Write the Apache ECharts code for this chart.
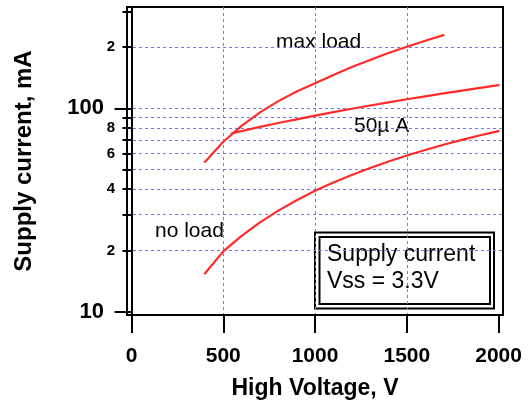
<!DOCTYPE html>
<html>
<head>
<meta charset="utf-8">
<script src="https://cdn.jsdelivr.net/npm/echarts@6/dist/echarts.min.js"></script>
<style>
  html, body { margin: 0; padding: 0; background: #fff; }
  #main { width: 531px; height: 409px; }
</style>
</head>
<body>
<div id="main"></div>
<script>
// values (x = high voltage V, y = supply current)
var maxLoadX = [400, 500, 600, 700, 800, 900, 1000, 1100, 1200, 1300, 1400, 1500, 1600, 1700];
var maxLoadY = [54.5, 68.5, 82, 95.5, 108.5, 121, 133, 146, 159.5, 173, 187, 201, 215, 229];
var uA50X = [546, 600, 700, 800, 900, 1000, 1100, 1200, 1300, 1400, 1500, 1600, 1700, 1800, 1900, 2000];
var uA50Y = [75.4, 77.3, 81, 84.7, 88.3, 92, 95.8, 99.5, 103.3, 107, 110.8, 114.6, 118.4, 122.2, 126.1, 130];
var noLoadX = [400, 500, 600, 700, 800, 900, 1000, 1100, 1200, 1300, 1400, 1500, 1600, 1700, 1800, 1900, 2000];
var noLoadY = [15.4, 19.8, 23.6, 27.5, 31.4, 35.3, 39.3, 43.2, 47, 50.9, 54.8, 58.6, 62.4, 66.2, 70, 73.7, 77.3];

var xTicks = [0, 500, 1000, 1500, 2000];
var xGrid = [500, 1000, 1500];
var yMajor = [10, 100];
var yMinorTicks = [20, 30, 40, 50, 60, 70, 80, 90, 200, 300];
var yMinorLabels = [20, 40, 60, 80, 200];
var yGrid = [20, 30, 40, 50, 60, 70, 80, 90, 100, 200];

function pairs(xs, ys) {
  return xs.map(function (x, i) { return [x, ys[i]]; });
}

var xMin = -24.5, xMax = 2024;
var yMin = 9.63, yMax = 315;
var font = 'Liberation Sans, Arial, sans-serif';
var gridLine = { show: true, lineStyle: { color: '#7474ff', type: [3, 3], width: 1 } };

var chart = echarts.init(document.getElementById('main'), null, { renderer: 'canvas' });
var option = {
  animation: false,
  grid: {
    left: 127, right: 28, top: 7, bottom: 94,
    show: true, borderColor: '#000', borderWidth: 2
  },
  xAxis: [{
    type: 'value', min: xMin, max: xMax,
    name: 'High Voltage, V', nameLocation: 'middle', nameGap: 62,
    nameTextStyle: { fontFamily: font, fontWeight: 'bold', fontSize: 23, color: '#000' },
    axisLine: { lineStyle: { color: '#000', width: 2 } },
    axisTick: { customValues: xTicks, length: 18, lineStyle: { color: '#000', width: 2 } },
    axisLabel: {
      customValues: xTicks, margin: 31, fontFamily: font, fontWeight: 'bold', fontSize: 21, color: '#000',
      formatter: function (v) { return String(v); }
    },
    splitLine: { show: false }
  }, {
    type: 'value', min: xMin, max: xMax, position: 'bottom',
    axisLine: { show: false },
    axisTick: { show: false, customValues: xGrid },
    axisLabel: { show: false },
    splitLine: gridLine
  }],
  yAxis: [{
    type: 'log', min: yMin, max: yMax,
    name: 'Supply current, mA', nameLocation: 'middle', nameGap: 91,
    nameTextStyle: { fontFamily: font, fontWeight: 'bold', fontSize: 24, color: '#000' },
    axisLine: { lineStyle: { color: '#000', width: 2 } },
    axisTick: { customValues: yMajor, length: 17, lineStyle: { color: '#000', width: 2 } },
    axisLabel: {
      customValues: yMajor, margin: 23, fontFamily: font, fontWeight: 'bold', fontSize: 22, color: '#000',
      formatter: function (v) { return String(Math.round(v)); }
    },
    splitLine: { show: false }
  }, {
    type: 'log', min: yMin, max: yMax, position: 'left',
    axisLine: { show: false },
    axisTick: { customValues: yMinorTicks, length: 9, lineStyle: { color: '#000', width: 2 } },
    axisLabel: {
      customValues: yMinorLabels, margin: 12, fontFamily: font, fontWeight: 'bold', fontSize: 15, color: '#000',
      formatter: function (v) { return String(Math.round(v / Math.pow(10, Math.floor(Math.log10(v) + 1e-9)))); }
    },
    splitLine: { show: false }
  }, {
    type: 'log', min: yMin, max: yMax, position: 'left',
    axisLine: { show: false },
    axisTick: { show: false, customValues: yGrid },
    axisLabel: { show: false },
    splitLine: gridLine
  }],
  series: [
    { name: 'max load', type: 'line', data: pairs(maxLoadX, maxLoadY) },
    { name: '50uA', type: 'line', data: pairs(uA50X, uA50Y) },
    { name: 'no load', type: 'line', data: pairs(noLoadX, noLoadY) }
  ].map(function (s) {
    s.xAxisIndex = 0; s.yAxisIndex = 0;
    s.showSymbol = false; s.smooth = false;
    s.lineStyle = { color: '#ff2b2b', width: 2.2, join: 'round', cap: 'round' };
    s.itemStyle = { color: '#ff2b2b' };
    return s;
  }),
  graphic: [
    { type: 'text', left: 276, top: 32, style: { text: 'max load', font: '21px ' + font, fill: '#000' } },
    { type: 'text', left: 354, top: 116, style: { text: '50µ A', font: '21px ' + font, fill: '#000' } },
    { type: 'text', left: 155, top: 221, style: { text: 'no load', font: '21px ' + font, fill: '#000' } },
    { type: 'rect', shape: { x: 315, y: 232.5, width: 179, height: 76 }, style: { fill: '#fff', stroke: '#000', lineWidth: 2 } },
    { type: 'rect', shape: { x: 319.5, y: 237, width: 170.5, height: 67 }, style: { fill: 'none', stroke: '#000', lineWidth: 2 } },
    { type: 'text', left: 327, top: 243, style: { text: 'Supply current', font: '23px ' + font, fill: '#000' } },
    { type: 'text', left: 327, top: 270, style: { text: 'Vss = 3.3V', font: '23px ' + font, fill: '#000' } }
  ]
};
chart.setOption(option);
</script>
</body>
</html>
